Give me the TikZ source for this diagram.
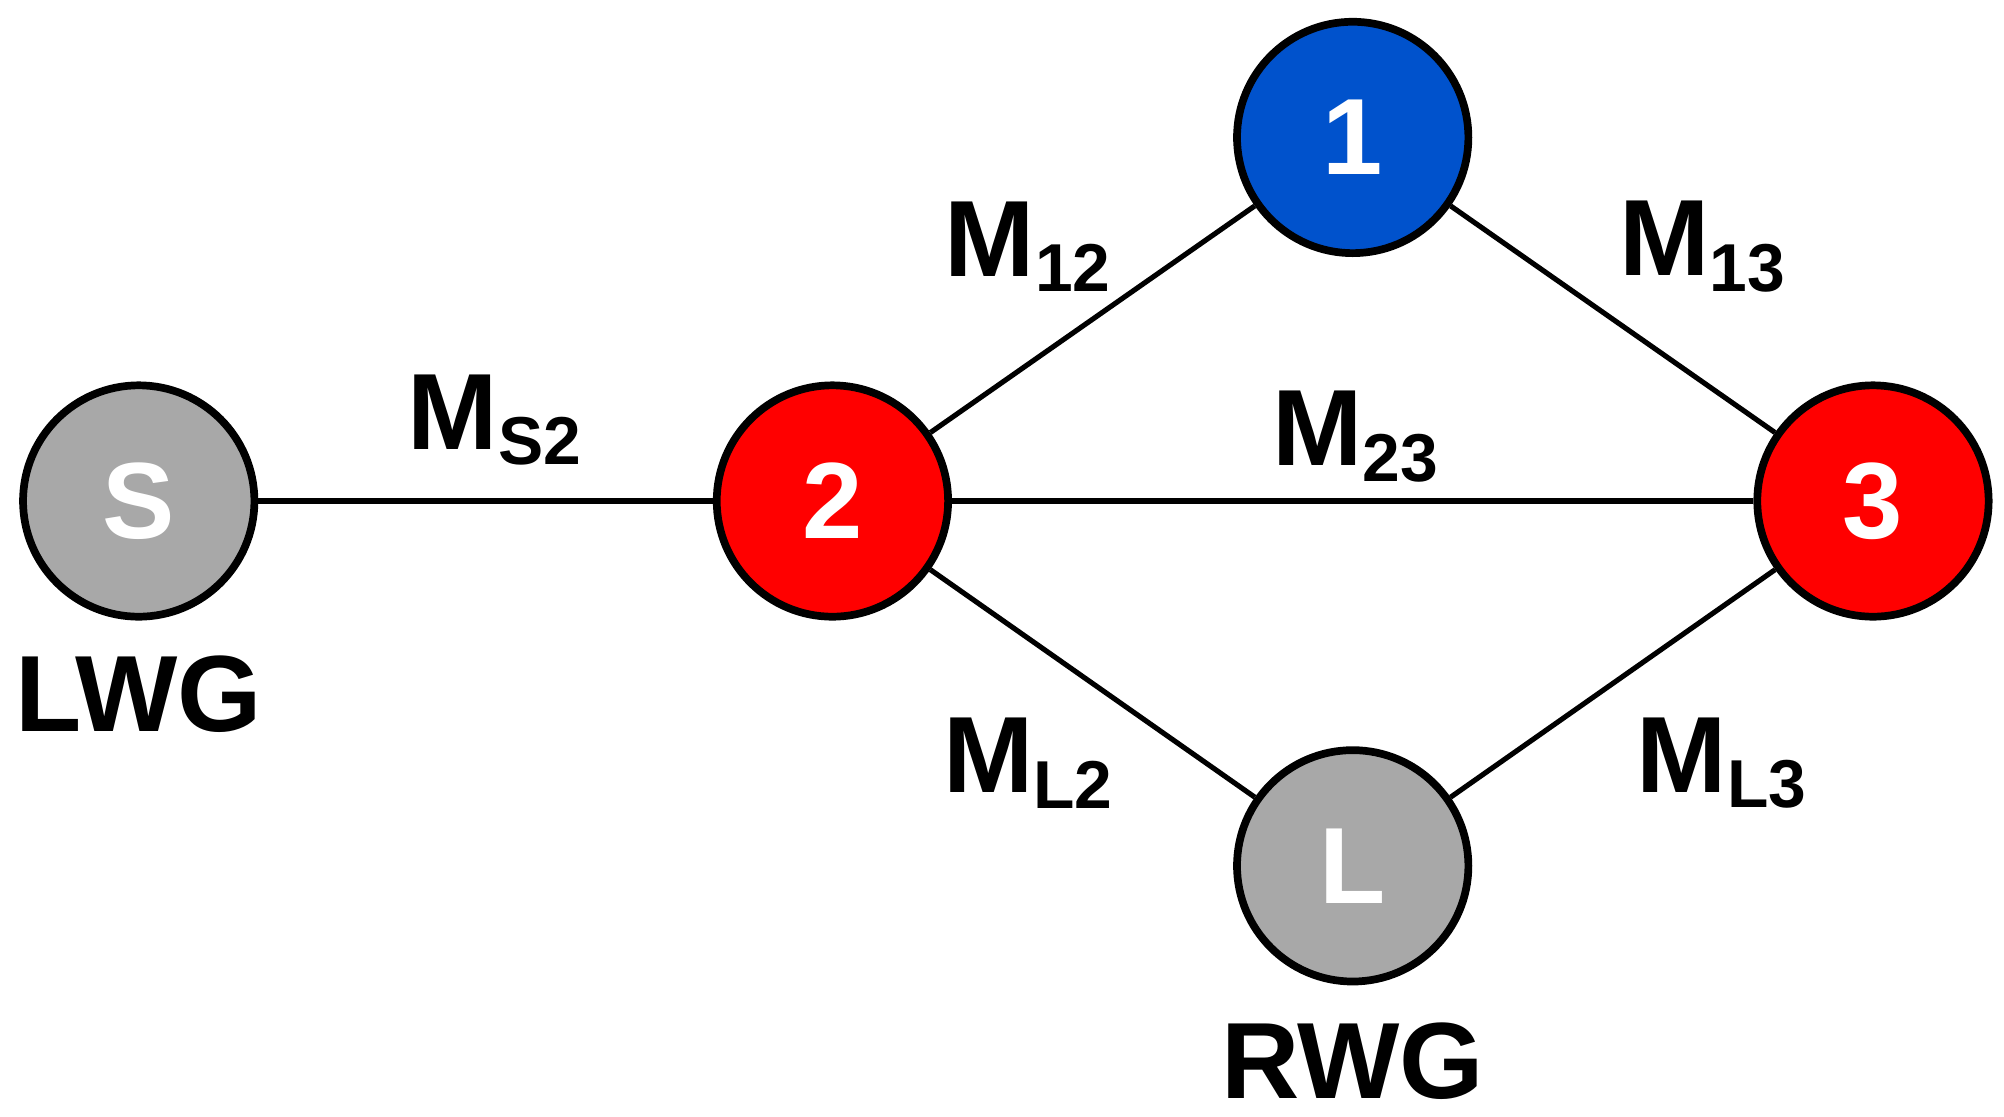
\documentclass[tikz,border=0pt]{standalone}
\usepackage{fontspec}
\setmainfont{Liberation Sans}
\usetikzlibrary{positioning}
\newcommand{\mlab}[1]{{\fontsize{24}{24}\selectfont M}{\fontsize{15}{15}\selectfont\raisebox{-0.12cm}{#1}}}
\begin{document}
\begin{tikzpicture}[x=0.01cm,y=-0.01cm,
    vert/.style={circle, draw, line width=0.06cm, minimum size=1.8cm, inner sep=0pt, text=white, font=\fontsize{24}{24}\selectfont\bfseries},
    gray vert/.style={vert, fill=black!34},
    red vert/.style={vert, fill=red},
    blue vert/.style={vert, fill=blue!60!cyan!80!black},
    link/.style={line width=0.04cm},
    tag/.style={font=\bfseries, inner sep=0pt}
]
\useasboundingbox (0,0) rectangle (1560,869);

\node[gray vert] (s) at (108,390) {S};
\node[red vert] (two) at (648,390) {2};
\node[blue vert] (one) at (1053,107) {1};
\node[red vert] (three) at (1458,390) {3};
\node[gray vert] (l) at (1053,674) {L};

\node[tag, font=\fontsize{24}{24}\selectfont\bfseries] (lwg) at (108,540) {LWG};
\node[tag, font=\fontsize{24}{24}\selectfont\bfseries] (rwg) at (1053,826) {RWG};

\draw[link] (s) -- (two);
\draw[link] (two) -- (three);
\draw[link] (two) -- (one);
\draw[link] (one) -- (three);
\draw[link] (two) -- (l);
\draw[link] (l) -- (three);

\node[tag] (ms2) at (385,327) {\mlab{S2}};
\node[tag] (m12) at (800,192) {\mlab{12}};
\node[tag] (m13) at (1325,192) {\mlab{13}};
\node[tag] (m23) at (1055,340) {\mlab{23}};
\node[tag] (ml2) at (800,594) {\mlab{L2}};
\node[tag] (ml3) at (1340,594) {\mlab{L3}};
\end{tikzpicture}
\end{document}
